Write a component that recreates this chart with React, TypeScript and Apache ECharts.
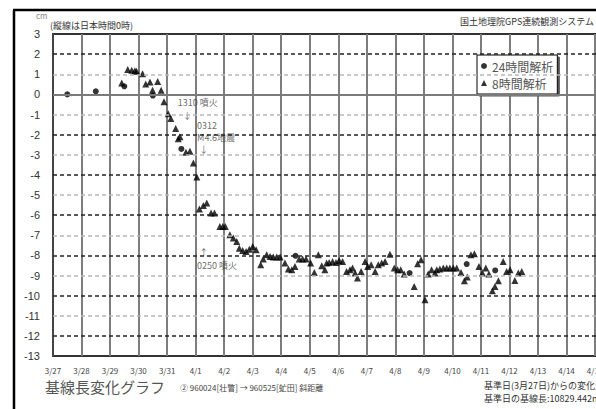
import React, { useEffect, useRef } from "react";
import * as echarts from "echarts";

// x values are days since 3/27 00:00 JST
const tickLabels = ["3/27","3/28","3/29","3/30","3/31","4/1","4/2","4/3","4/4","4/5","4/6","4/7","4/8","4/9","4/10","4/11","4/12","4/13","4/14","4/15","4/16"];

const series24h: [number, number][] = [
  [0.5, 0.0],[1.5, 0.15],[2.5, 0.4],[3.5, -0.06],[4.5, -2.71],[8.5, -8.02],[12.5, -8.88],[14.5, -8.43],[15.5, -8.75],
];

const series8h: [number, number][] = [
  [2.41,0.57],[2.62,1.23],[2.76,1.2],[2.87,1.18],[2.93,1.15],[3.14,1.02],[3.25,0.52],[3.40,0.62],[3.49,0.2],[3.67,0.64],
  [3.79,0.2],[3.89,-0.37],[4.04,-0.96],[4.13,-1.2],[4.30,-1.7],[4.39,-2.21],[4.45,-2.11],[4.66,-2.88],[4.80,-2.83],[4.92,-3.41],
  [5.04,-4.1],[5.13,-5.7],[5.27,-5.52],[5.39,-5.4],[5.54,-5.9],[5.66,-5.9],[5.85,-6.56],[5.95,-6.56],[6.04,-6.56],[6.20,-6.98],
  [6.32,-7.14],[6.44,-7.31],[6.53,-7.64],[6.65,-7.76],[6.77,-7.81],[6.88,-7.69],[7.0,-7.56],[7.12,-7.72],[7.28,-8.47],[7.37,-8.18],
  [7.49,-7.97],[7.61,-8.05],[7.72,-8.08],[7.84,-8.08],[7.96,-8.08],[8.13,-8.38],[8.25,-8.68],[8.37,-8.72],[8.48,-8.55],[8.63,-8.18],
  [8.75,-8.18],[8.87,-8.18],[9.03,-8.38],[9.16,-8.85],[9.3,-7.97],[9.42,-8.52],[9.53,-8.72],[9.59,-8.38],[9.68,-8.35],[9.8,-8.3],
  [9.92,-8.35],[10.03,-8.25],[10.15,-8.3],[10.29,-8.8],[10.41,-8.72],[10.50,-8.63],[10.59,-8.88],[10.67,-9.13],[10.8,-8.8],[10.94,-8.3],
  [11.03,-8.55],[11.15,-8.47],[11.29,-8.8],[11.40,-8.47],[11.52,-8.38],[11.64,-8.3],[11.81,-7.94],[11.96,-8.63],[12.08,-8.72],[12.19,-8.72],
  [12.31,-8.92],[12.66,-9.55],[12.78,-8.42],[12.9,-8.22],[13.04,-10.21],[13.15,-8.92],[13.27,-8.72],[13.39,-8.88],[13.45,-8.72],[13.56,-8.68],
  [13.68,-8.63],[13.8,-8.63],[13.91,-8.63],[14.03,-8.63],[14.15,-8.63],[14.3,-8.85],[14.42,-9.26],[14.52,-9.08],[14.65,-7.97],[14.77,-7.92],
  [14.93,-8.55],[15.05,-8.88],[15.17,-8.63],[15.28,-8.93],[15.4,-9.76],[15.49,-9.55],[15.61,-9.26],[15.78,-8.3],[15.9,-8.8],[16.02,-8.72],
  [16.19,-9.25],[16.31,-8.88],[16.43,-8.8],
];

// event annotations: [day, value, text]
const eventLabels: [number, number, string][] = [
  [4.37, -0.41, "1310 噴火"],
  [4.55, -1.05, "↓"],
  [5.05, -1.55, "0312"],
  [5.05, -2.15, "M4.6地震"],
  [5.13, -2.75, "↓"],
  [5.13, -7.87, "↑"],
  [5.05, -8.52, "0250 噴火"],
];

const yMin = -13;
const yMax = 3;
const xMin = 0;
const xMax = 20;

const FONT = "'Noto Sans CJK JP', 'Liberation Sans', sans-serif";

export default function App() {
  const ref = useRef<HTMLDivElement>(null);
  useEffect(() => {
    if (!ref.current) return;
    const chart = echarts.init(ref.current, null, { renderer: "svg" });
    const hLines: any[] = [];
    for (let v = yMin + 1; v < yMax; v++) {
      if (v === 0) {
        hLines.push({ yAxis: v, lineStyle: { color: "#7a7a7a", width: 2, type: "solid" } });
      } else if (v % 2 === 0) {
        hLines.push({ yAxis: v, lineStyle: { color: "#222", width: 1.5, type: [4, 3] } });
      } else {
        hLines.push({ yAxis: v, lineStyle: { color: "#b8b8b8", width: 1.5, type: [4, 3] } });
      }
    }
    chart.setOption({
      animation: false,
      backgroundColor: "#fff",
      textStyle: { fontFamily: FONT },
      grid: {
        left: 53,
        top: 34,
        width: 570.6,
        height: 322,
        show: true,
        borderColor: "#333",
        borderWidth: 2,
        backgroundColor: "#fff",
      },
      legend: {
        orient: "vertical",
        left: 477,
        top: 55,
        padding: [5, 4, 5, 4],
        itemGap: 5,
        itemWidth: 6,
        itemHeight: 6,
        backgroundColor: "#fff",
        borderColor: "#000",
        borderWidth: 1,
        shadowColor: "#555",
        shadowOffsetX: 2,
        shadowOffsetY: 2,
        shadowBlur: 0,
        textStyle: { fontSize: 12, color: "#555", fontFamily: FONT, padding: [0, 0, 0, 0] },
        data: [
          { name: "24時間解析", icon: "circle" },
          { name: "8時間解析", icon: "triangle" },
        ],
      },
      xAxis: {
        type: "value",
        min: xMin,
        max: xMax,
        interval: 1,
        axisLine: { show: true, lineStyle: { color: "#444", width: 2 } },
        axisTick: { show: false },
        axisLabel: {
          margin: 10,
          fontSize: 8,
          color: "#444",
          fontFamily: FONT,
          formatter: (v: number) => tickLabels[Math.round(v)] ?? "",
        },
        splitLine: { show: true, lineStyle: { color: "#7d7d7d", width: 2 } },
      },
      yAxis: {
        type: "value",
        min: yMin,
        max: yMax,
        interval: 1,
        axisLine: { show: true, lineStyle: { color: "#444", width: 2 } },
        axisTick: { show: false },
        axisLabel: { margin: 13, fontSize: 11, color: "#333", fontFamily: "'Liberation Sans', sans-serif" },
        splitLine: { show: false },
      },
      graphic: [
        { type: "line", shape: { x1: 13, y1: 10, x2: 596, y2: 10 }, style: { stroke: "#000", lineWidth: 2.5 } },
        { type: "line", shape: { x1: 14, y1: 10, x2: 14, y2: 409 }, style: { stroke: "#000", lineWidth: 2.5 } },
        { type: "text", x: 36, y: 15, style: { text: "cm", font: `8px ${FONT}`, fill: "#888", verticalAlign: "middle" } },
        { type: "text", x: 50, y: 25, style: { text: "(縦線は日本時間0時)", font: `9px ${FONT}`, fill: "#333", verticalAlign: "middle" } },
        { type: "text", x: 594, y: 21, style: { text: "国土地理院GPS連続観測システム", font: `9px ${FONT}`, fill: "#333", align: "right", verticalAlign: "middle" } },
        { type: "text", x: 45, y: 386, style: { text: "基線長変化グラフ", font: `15px ${FONT}`, fill: "#555", verticalAlign: "middle" } },
        { type: "text", x: 180, y: 387, style: { text: "② 960024[壮瞥] → 960525[虻田] 斜距離", font: `8px ${FONT}`, fill: "#444", verticalAlign: "middle" } },
        { type: "text", x: 484, y: 385, style: { text: "基準日(3月27日)からの変化量", font: `9px ${FONT}`, fill: "#333", verticalAlign: "middle" } },
        { type: "text", x: 484, y: 398, style: { text: "基準日の基線長:10829.442m", font: `9px ${FONT}`, fill: "#333", verticalAlign: "middle" } },
      ],
      series: [
        {
          name: "grid-lines",
          type: "scatter",
          data: [],
          silent: true,
          z: 1,
          markLine: {
            silent: true,
            symbol: ["none", "none"],
            label: { show: false },
            animation: false,
            data: hLines,
          },
        },
        {
          name: "events",
          type: "scatter",
          silent: true,
          symbolSize: 0,
          z: 3,
          data: eventLabels.map((e) => ({ value: [e[0], e[1]], text: e[2] })),
          label: {
            show: true,
            position: "inside",
            align: "left",
            fontSize: 9,
            color: "#444",
            fontFamily: FONT,
            formatter: (p: any) => p.data.text,
          },
        },
        {
          name: "24時間解析",
          type: "scatter",
          symbol: "circle",
          symbolSize: 6,
          itemStyle: { color: "#000" },
          z: 4,
          data: series24h,
        },
        {
          name: "8時間解析",
          type: "scatter",
          symbol: "triangle",
          symbolSize: 7,
          itemStyle: { color: "#000" },
          z: 4,
          data: series8h,
        },
      ],
    });
    return () => chart.dispose();
  }, []);
  return (
    <div style={{ position: "fixed", left: 0, top: 0, width: 596, height: 409, overflow: "hidden", background: "#fff" }}>
      <div ref={ref} style={{ width: 660, height: 409 }} />
    </div>
  );
}
